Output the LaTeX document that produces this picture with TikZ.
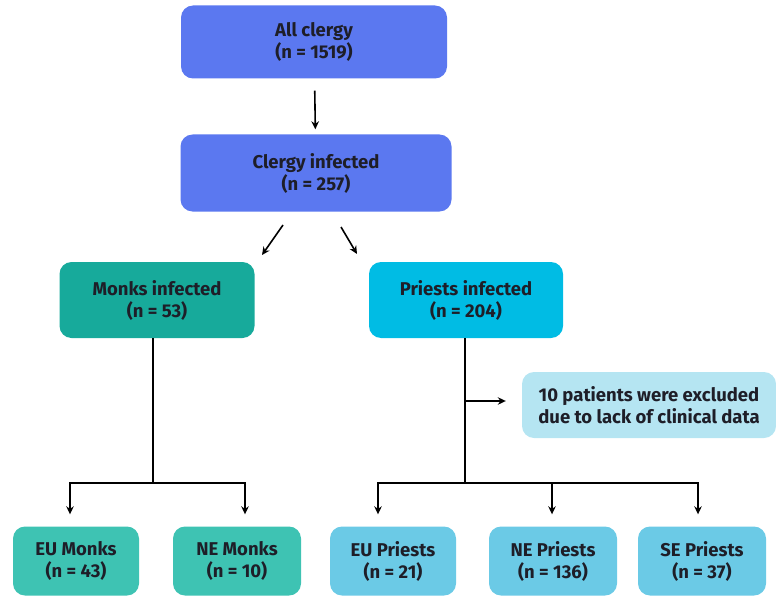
\documentclass[tikz,border=0pt]{standalone}
\usepackage{fontspec}
\setmainfont{Fira Sans}
\usetikzlibrary{arrows.meta,calc}

\definecolor{clergyblue}{HTML}{5B78F0}
\definecolor{monkteal}{HTML}{17AA9B}
\definecolor{priestcyan}{HTML}{00BCE4}
\definecolor{excludedcyan}{HTML}{B5E5F2}
\definecolor{monklight}{HTML}{3EC3B3}
\definecolor{priestlight}{HTML}{6BCAE6}
\definecolor{textdark}{HTML}{1E1E28}

\begin{document}
\begin{tikzpicture}[x=1pt, y=-1pt,
    box/.style={rounded corners=12pt, align=center, text=textdark,
      font=\bfseries\fontsize{18.5}{22}\selectfont, inner sep=0pt},
    arr/.style={line width=1.6pt, -{Stealth[length=8pt,width=7.5pt]}},
    branch/.style={line width=1.6pt}]

  \useasboundingbox (0,0) rectangle (776,599);

  % Top boxes
  \node[box, fill=clergyblue, minimum width=266pt, minimum height=73pt] (all) at (314,42) {All clergy\\(n = 1519)};
  \node[box, fill=clergyblue, minimum width=271pt, minimum height=77pt] (inf) at (316,173) {Clergy infected\\(n = 257)};

  % Monks and priests
  \node[box, fill=monkteal, minimum width=195pt, minimum height=76pt] (monks) at (157,300) {Monks infected\\(n = 53)};
  \node[box, fill=priestcyan, minimum width=194pt, minimum height=76pt] (priests) at (466,300) {Priests infected\\(n = 204)};

  % Exclusion note
  \node[box, fill=excludedcyan, minimum width=254pt, minimum height=66pt] (excl) at (649,405) {10 patients were excluded\\due to lack of clinical data};

  % Bottom row
  \node[box, fill=monklight, minimum width=126pt, minimum height=69pt] (eumonks) at (76,561) {EU Monks\\(n = 43)};
  \node[box, fill=monklight, minimum width=128pt, minimum height=69pt] (nemonks) at (237,561) {NE Monks\\(n = 10)};
  \node[box, fill=priestlight, minimum width=126pt, minimum height=69pt] (eupriests) at (393,561) {EU Priests\\(n = 21)};
  \node[box, fill=priestlight, minimum width=128pt, minimum height=69pt] (nepriests) at (553,561) {NE Priests\\(n = 136)};
  \node[box, fill=priestlight, minimum width=128pt, minimum height=69pt] (sepriests) at (702,561) {SE Priests\\(n = 37)};

  % Arrows from the top
  \draw[arr, shorten <=12pt, shorten >=5pt] (all) -- (inf);
  \coordinate (lstart) at (283,225);
  \coordinate (lend) at (262,255);
  \coordinate (rstart) at (341,227);
  \coordinate (rend) at (357,254);
  \draw[arr] (lstart) -- (lend);
  \draw[arr] (rstart) -- (rend);

  % Monks split
  \coordinate (mjoin) at (153,483);
  \draw[branch] (mjoin |- monks.south) -- (mjoin);
  \draw[arr, shorten >=12pt] (mjoin) -| ([xshift=-6pt]eumonks.north);
  \draw[arr, shorten >=12pt] (mjoin) -| ([xshift=8pt]nemonks.north);

  % Priests split
  \coordinate (pjoin) at (465,483);
  \coordinate (pexcl) at (465,401);
  \draw[branch] (pjoin |- priests.south) -- (pjoin);
  \draw[arr, shorten >=16pt] (pexcl) -- (pexcl -| excl.west);
  \draw[arr, shorten >=12pt] (pjoin) -| ([xshift=-15pt]eupriests.north);
  \draw[arr, shorten >=12pt] (pjoin) -| ([xshift=-1pt]nepriests.north);
  \draw[arr, shorten >=12pt] (pjoin) -| ([xshift=-4pt]sepriests.north);

\end{tikzpicture}
\end{document}
